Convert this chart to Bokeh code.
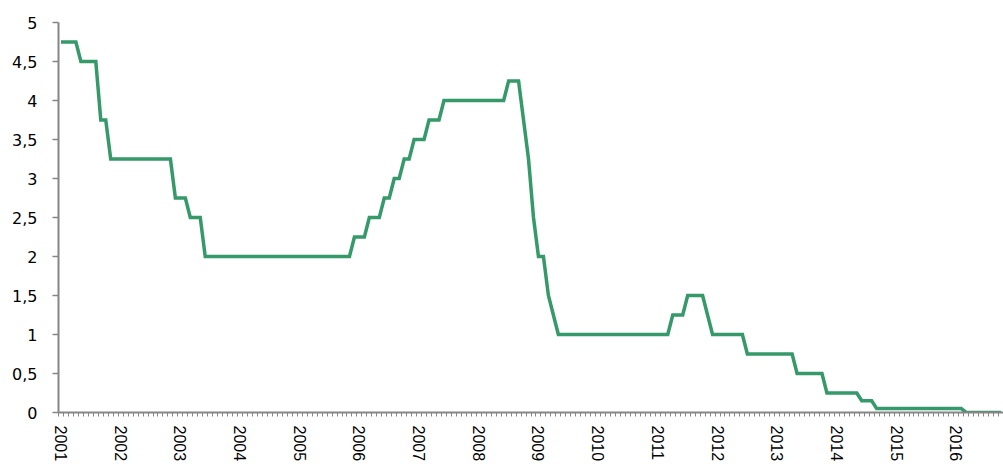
from bokeh.plotting import figure
from bokeh.models import Range1d, FixedTicker, ColumnDataSource
from bokeh.embed import file_html
from bokeh.resources import INLINE

# Monthly rate, Jan 2001 .. Oct 2016 (end-of-month values)
rate_2001 = [4.75, 4.75, 4.75, 4.75, 4.5, 4.5, 4.5, 4.5, 3.75, 3.75, 3.25, 3.25]
rate_2002 = [3.25, 3.25, 3.25, 3.25, 3.25, 3.25, 3.25, 3.25, 3.25, 3.25, 3.25, 2.75]
rate_2003 = [2.75, 2.75, 2.5, 2.5, 2.5, 2.0, 2.0, 2.0, 2.0, 2.0, 2.0, 2.0]
rate_2004 = [2.0, 2.0, 2.0, 2.0, 2.0, 2.0, 2.0, 2.0, 2.0, 2.0, 2.0, 2.0]
rate_2005 = [2.0, 2.0, 2.0, 2.0, 2.0, 2.0, 2.0, 2.0, 2.0, 2.0, 2.0, 2.25]
rate_2006 = [2.25, 2.25, 2.5, 2.5, 2.5, 2.75, 2.75, 3.0, 3.0, 3.25, 3.25, 3.5]
rate_2007 = [3.5, 3.5, 3.75, 3.75, 3.75, 4.0, 4.0, 4.0, 4.0, 4.0, 4.0, 4.0]
rate_2008 = [4.0, 4.0, 4.0, 4.0, 4.0, 4.0, 4.25, 4.25, 4.25, 3.75, 3.25, 2.5]
rate_2009 = [2.0, 2.0, 1.5, 1.25, 1.0, 1.0, 1.0, 1.0, 1.0, 1.0, 1.0, 1.0]
rate_2010 = [1.0, 1.0, 1.0, 1.0, 1.0, 1.0, 1.0, 1.0, 1.0, 1.0, 1.0, 1.0]
rate_2011 = [1.0, 1.0, 1.0, 1.25, 1.25, 1.25, 1.5, 1.5, 1.5, 1.5, 1.25, 1.0]
rate_2012 = [1.0, 1.0, 1.0, 1.0, 1.0, 1.0, 0.75, 0.75, 0.75, 0.75, 0.75, 0.75]
rate_2013 = [0.75, 0.75, 0.75, 0.75, 0.5, 0.5, 0.5, 0.5, 0.5, 0.5, 0.25, 0.25]
rate_2014 = [0.25, 0.25, 0.25, 0.25, 0.25, 0.15, 0.15, 0.15, 0.05, 0.05, 0.05, 0.05]
rate_2015 = [0.05, 0.05, 0.05, 0.05, 0.05, 0.05, 0.05, 0.05, 0.05, 0.05, 0.05, 0.05]
rate_2016 = [0.05, 0.05, 0.0, 0.0, 0.0, 0.0, 0.0, 0.0, 0.0, 0.0]

year_labels = ["2001", "2002", "2003", "2004", "2005", "2006", "2007", "2008",
               "2009", "2010", "2011", "2012", "2013", "2014", "2015", "2016"]
y_ticks = [0, 0.5, 1, 1.5, 2, 2.5, 3, 3.5, 4, 4.5, 5]
y_labels = ["0", "0,5", "1", "1,5", "2", "2,5", "3", "3,5", "4", "4,5", "5"]

rates = (rate_2001 + rate_2002 + rate_2003 + rate_2004 + rate_2005 + rate_2006 +
         rate_2007 + rate_2008 + rate_2009 + rate_2010 + rate_2011 + rate_2012 +
         rate_2013 + rate_2014 + rate_2015 + rate_2016)
months = list(range(len(rates)))
src = ColumnDataSource(dict(x=months, y=rates))

p = figure(width=1003, height=464, output_backend="svg", toolbar_location=None,
           x_range=Range1d(-0.5, len(months) - 0.5), y_range=Range1d(0, 5),
           min_border_left=58, min_border_right=0, min_border_top=22,
           min_border_bottom=52)
p.outline_line_color = None
p.xgrid.visible = False
p.ygrid.visible = False
p.background_fill_color = "white"
p.border_fill_color = "white"

p.line("x", "y", source=src, line_color="#35996A", line_width=3.5,
       line_join="miter")

grey = "#868686"
# x axis: labels at first month of each year, tick marks at month boundaries
major_x = [12 * k for k in range(len(year_labels))]
minor_x = [m - 0.5 for m in months] + [len(months) - 0.5]
p.xaxis.ticker = FixedTicker(ticks=major_x, minor_ticks=minor_x)
p.xaxis.major_label_overrides = {t: lab for t, lab in zip(major_x, year_labels)}
p.xaxis.major_label_orientation = "vertical"
p.xaxis.major_tick_out = 0
p.xaxis.major_tick_in = 0
p.xaxis.minor_tick_out = 4
p.xaxis.minor_tick_in = 0
p.xaxis.minor_tick_line_color = grey
p.xaxis.minor_tick_line_width = 1
p.xaxis.axis_line_color = grey
p.xaxis.axis_line_width = 2
p.xaxis.major_label_standoff = 9
p.xaxis.major_label_text_font = "Liberation Sans"
p.xaxis.major_label_text_font_size = "16px"
p.xaxis.major_label_text_color = "#000000"

p.yaxis.ticker = FixedTicker(ticks=y_ticks, minor_ticks=[])
p.yaxis.major_label_overrides = {t: lab for t, lab in zip(y_ticks, y_labels)}
p.yaxis.major_tick_out = 6
p.yaxis.major_tick_in = 0
p.yaxis.major_tick_line_color = grey
p.yaxis.major_tick_line_width = 1.5
p.yaxis.minor_tick_line_color = None
p.yaxis.axis_line_color = grey
p.yaxis.axis_line_width = 2
p.yaxis.major_label_standoff = 15
p.yaxis.major_label_text_font = "DejaVu Sans"
p.yaxis.major_label_text_font_size = "16px"
p.yaxis.major_label_text_color = "#000000"

open("out.html", "w").write(file_html(p, INLINE))
